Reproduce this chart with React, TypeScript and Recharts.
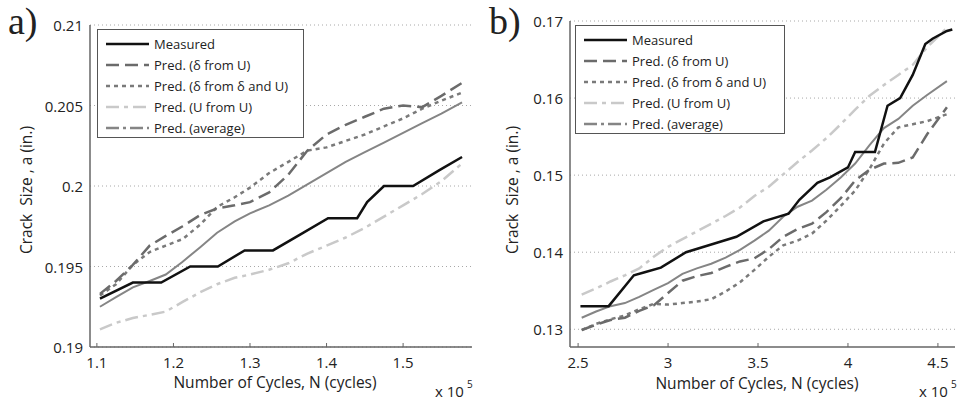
import React from 'react';
import { LineChart, Line, XAxis, YAxis, CartesianGrid } from 'recharts';

// panel a) - cycles in units of 1e5
const A_MEAS_N = [1.104, 1.147, 1.184, 1.222, 1.258, 1.293, 1.33, 1.366, 1.402, 1.44, 1.453, 1.475, 1.513, 1.548, 1.577];
const A_MEAS = [0.193, 0.194, 0.194, 0.195, 0.195, 0.196, 0.196, 0.197, 0.198, 0.198, 0.199, 0.2, 0.2, 0.201, 0.2018];

const A_PRED_N = [1.104, 1.125, 1.147, 1.169, 1.19, 1.212, 1.235, 1.257, 1.28, 1.3, 1.325, 1.35, 1.375, 1.4, 1.425, 1.45, 1.475, 1.5, 1.525, 1.55, 1.577];
const A_DELTA_U = [0.1933, 0.1941, 0.1951, 0.1963, 0.1969, 0.1975, 0.1982, 0.1986, 0.1988, 0.199, 0.1996, 0.2007, 0.2022, 0.2032, 0.2038, 0.2043, 0.2048, 0.205, 0.2049, 0.2056, 0.2064];
const A_DELTA_DU = [0.1932, 0.1939, 0.1951, 0.1959, 0.1963, 0.1967, 0.1976, 0.1987, 0.1993, 0.1999, 0.2008, 0.2015, 0.2022, 0.2024, 0.2028, 0.2032, 0.2037, 0.2042, 0.2048, 0.2053, 0.2058];
const A_U_U = [0.1911, 0.1915, 0.1918, 0.192, 0.1922, 0.1928, 0.1934, 0.1939, 0.1943, 0.1945, 0.1948, 0.1952, 0.1958, 0.1963, 0.1968, 0.1974, 0.1981, 0.1988, 0.1995, 0.2003, 0.2014];
const A_AVG = [0.1925, 0.1931, 0.1937, 0.1941, 0.1945, 0.1953, 0.1962, 0.1971, 0.1978, 0.1983, 0.1988, 0.1994, 0.2001, 0.2008, 0.2015, 0.2021, 0.2027, 0.2033, 0.2039, 0.2045, 0.2052];

const A_X_TICKS = [1.1, 1.2, 1.3, 1.4, 1.5];
const A_Y_TICKS = [0.19, 0.195, 0.2, 0.205, 0.21];

// panel b)
const B_MEAS_N = [2.513, 2.67, 2.81, 2.87, 2.96, 3.1, 3.24, 3.38, 3.53, 3.67, 3.73, 3.83, 3.9, 4.0, 4.04, 4.15, 4.22, 4.29, 4.36, 4.43, 4.47, 4.55, 4.58];
const B_MEAS = [0.133, 0.133, 0.137, 0.1374, 0.138, 0.14, 0.141, 0.142, 0.144, 0.145, 0.1468, 0.149, 0.1497, 0.151, 0.153, 0.153, 0.159, 0.16, 0.163, 0.167, 0.1677, 0.1687, 0.1689];

const B_PRED_N = [2.52, 2.6, 2.68, 2.76, 2.84, 2.92, 3.0, 3.08, 3.16, 3.24, 3.32, 3.4, 3.48, 3.56, 3.64, 3.72, 3.8, 3.88, 3.96, 4.04, 4.12, 4.2, 4.28, 4.36, 4.44, 4.55];
const B_DELTA_U = [0.1299, 0.1306, 0.1312, 0.1315, 0.1324, 0.1331, 0.1347, 0.1363, 0.1369, 0.1373, 0.1381, 0.1388, 0.1392, 0.1404, 0.142, 0.143, 0.1437, 0.1452, 0.147, 0.1493, 0.1507, 0.1515, 0.1516, 0.1523, 0.1553, 0.1588];
const B_DELTA_DU = [0.1299, 0.1307, 0.1313, 0.1318, 0.1326, 0.1333, 0.1332, 0.1334, 0.1336, 0.1339, 0.1349, 0.1361, 0.1377, 0.1394, 0.1409, 0.1415, 0.1424, 0.1441, 0.146, 0.148, 0.1508, 0.1541, 0.1562, 0.1566, 0.157, 0.1579];
const B_U_U = [0.1345, 0.1353, 0.1362, 0.137, 0.1379, 0.1394, 0.1407, 0.1417, 0.1427, 0.1437, 0.1447, 0.1458, 0.1473, 0.1485, 0.1501, 0.1517, 0.1532, 0.1548, 0.1566, 0.1585, 0.1603, 0.1617, 0.163, 0.1643, 0.1666, 0.1691];
const B_AVG = [0.1315, 0.1323, 0.133, 0.1334, 0.1342, 0.1351, 0.136, 0.1372, 0.1379, 0.1385, 0.1393, 0.1403, 0.1415, 0.1428, 0.1446, 0.1459, 0.1467, 0.1481, 0.1497, 0.1515, 0.1539, 0.1561, 0.1573, 0.159, 0.1604, 0.1622];

const B_X_TICKS = [2.5, 3, 3.5, 4, 4.5];
const B_Y_TICKS = [0.13, 0.14, 0.15, 0.16, 0.17];

const LABELS = ['Measured', 'Pred. (\u03b4 from U)', 'Pred. (\u03b4 from \u03b4 and U)', 'Pred. (U from U)', 'Pred. (average)'];

const FONT = '"Open Sans", "DejaVu Sans", sans-serif';
const TEXT = '#222';
const AXIS = '#666';

// stroke styles, in the same order as LABELS
const STYLES = [
  { color: '#111111', width: 2.5, dash: undefined, legendDash: undefined },
  { color: '#6b6b6b', width: 2.5, dash: '13 6', legendDash: '13 6' },
  { color: '#7a7a7a', width: 2.5, dash: '4 4', legendDash: '4 4' },
  { color: '#c9c9c9', width: 2.5, dash: '13 5 4 5', legendDash: '13 5 4 5' },
  { color: '#858585', width: 2, dash: undefined, legendDash: '13 4 3 4' },
];

const zip = (xs: number[], ys: number[]) => xs.map((n, i) => ({ n, a: ys[i] }));

const XTick = (props: any) => {
  const { x, y, payload } = props;
  return (
    <g>
      <line x1={x} x2={x} y1={y} y2={y - 4} stroke={AXIS} strokeWidth={1} />
      <text x={x} y={y + 15} textAnchor="middle" dominantBaseline="central" fontSize={15} fill={TEXT} fontFamily={FONT}>
        {payload.value}
      </text>
    </g>
  );
};

const YTick = (props: any) => {
  const { x, y, payload } = props;
  return (
    <text x={x - 7} y={y} textAnchor="end" dominantBaseline="central" fontSize={15} fill={TEXT} fontFamily={FONT}>
      {payload.value}
    </text>
  );
};

interface PanelProps {
  left: number;
  width: number;
  margin: { top: number; right: number; bottom: number; left: number };
  xDomain: [number, number];
  yDomain: [number, number];
  xTicks: number[];
  yTicks: number[];
  series: { n: number; a: number }[][];
}

const Panel: React.FC<PanelProps> = ({ left, width, margin, xDomain, yDomain, xTicks, yTicks, series }) => (
  <div style={{ position: 'absolute', left, top: 0 }}>
    <LineChart width={width} height={400} margin={margin}>
      <CartesianGrid vertical={false} horizontalValues={yTicks} stroke="#a8a8a8" strokeDasharray="1 3" />
      <XAxis
        type="number"
        dataKey="n"
        domain={xDomain}
        ticks={xTicks}
        allowDataOverflow
        tickLine={false}
        tickSize={0}
        tickMargin={0}
        tick={<XTick />}
        stroke={AXIS}
        strokeWidth={1.5}
        height={30}
      />
      <YAxis
        type="number"
        dataKey="a"
        domain={yDomain}
        ticks={yTicks}
        allowDataOverflow
        tickLine={false}
        tickSize={0}
        tickMargin={0}
        tick={<YTick />}
        stroke={AXIS}
        strokeWidth={1.5}
        width={60}
      />
      {/* draw order: predictions first, measured on top */}
      {[3, 4, 2, 1, 0].map((k) => (
        <Line
          key={k}
          data={series[k]}
          dataKey="a"
          type="linear"
          stroke={STYLES[k].color}
          strokeWidth={STYLES[k].width}
          strokeDasharray={STYLES[k].dash}
          dot={false}
          isAnimationActive={false}
        />
      ))}
    </LineChart>
  </div>
);

const LegendBox: React.FC<{ left: number; top: number; width: number }> = ({ left, top, width }) => (
  <div
    style={{
      position: 'absolute',
      left,
      top,
      width,
      height: 109,
      border: '1px solid #555',
      background: '#fff',
      boxSizing: 'border-box',
      paddingTop: 3,
    }}
  >
    {LABELS.map((label, k) => (
      <div key={label} style={{ display: 'flex', alignItems: 'center', height: 21.2 }}>
        <svg width={56} height={10} style={{ flex: 'none' }}>
          <line
            x1={8}
            x2={51}
            y1={5}
            y2={5}
            stroke={STYLES[k].color}
            strokeWidth={k === 4 ? 2.5 : STYLES[k].width}
            strokeDasharray={STYLES[k].legendDash}
          />
        </svg>
        <span style={{ fontFamily: FONT, fontSize: 13, color: TEXT, whiteSpace: 'nowrap' }}>{label}</span>
      </div>
    ))}
  </div>
);

export default function App() {
  const seriesA = [zip(A_MEAS_N, A_MEAS), zip(A_PRED_N, A_DELTA_U), zip(A_PRED_N, A_DELTA_DU), zip(A_PRED_N, A_U_U), zip(A_PRED_N, A_AVG)];
  const seriesB = [zip(B_MEAS_N, B_MEAS), zip(B_PRED_N, B_DELTA_U), zip(B_PRED_N, B_DELTA_DU), zip(B_PRED_N, B_U_U), zip(B_PRED_N, B_AVG)];

  return (
    <div style={{ position: 'absolute', left: 0, top: 0, width: 957, height: 400, background: '#fff', overflow: 'hidden' }}>
      <Panel
        left={0}
        width={480}
        margin={{ top: 25, right: 8, bottom: 23, left: 30 }}
        xDomain={[1.091, 1.59]}
        yDomain={[0.19, 0.21]}
        xTicks={A_X_TICKS}
        yTicks={A_Y_TICKS}
        series={seriesA}
      />
      <Panel
        left={480}
        width={477}
        margin={{ top: 21, right: 2, bottom: 23, left: 30 }}
        xDomain={[2.455, 4.595]}
        yDomain={[0.1277, 0.17]}
        xTicks={B_X_TICKS}
        yTicks={B_Y_TICKS}
        series={seriesB}
      />
      <LegendBox left={97} top={29} width={207} />
      <LegendBox left={575} top={25} width={210} />
      <svg width={957} height={400} style={{ position: 'absolute', left: 0, top: 0, pointerEvents: 'none' }}>
        <g fontFamily={FONT} fill={TEXT}>
          <text x={8} y={34} fontSize={38} fontFamily='"Liberation Serif", serif'>a)</text>
          <text x={489} y={34} fontSize={38} fontFamily='"Liberation Serif", serif'>b)</text>
          <text x={275} y={382} fontSize={15.5} textAnchor="middle" dominantBaseline="central">Number of Cycles, N (cycles)</text>
          <text x={757} y={383} fontSize={15.5} textAnchor="middle" dominantBaseline="central">Number of Cycles, N (cycles)</text>
          <text x={435} y={391} fontSize={15} dominantBaseline="central">x 10</text>
          <text x={467} y={384} fontSize={10} dominantBaseline="central">5</text>
          <text x={919} y={391} fontSize={15} dominantBaseline="central">x 10</text>
          <text x={951} y={384} fontSize={10} dominantBaseline="central">5</text>
          <text x={26} y={190} fontSize={15.5} textAnchor="middle" dominantBaseline="central" transform="rotate(-90 26 190)" style={{ whiteSpace: 'pre' }}>
            Crack  Size , a (in.)
          </text>
          <text x={512} y={190} fontSize={15.5} textAnchor="middle" dominantBaseline="central" transform="rotate(-90 512 190)" style={{ whiteSpace: 'pre' }}>
            Crack  Size , a (in.)
          </text>
        </g>
      </svg>
    </div>
  );
}
